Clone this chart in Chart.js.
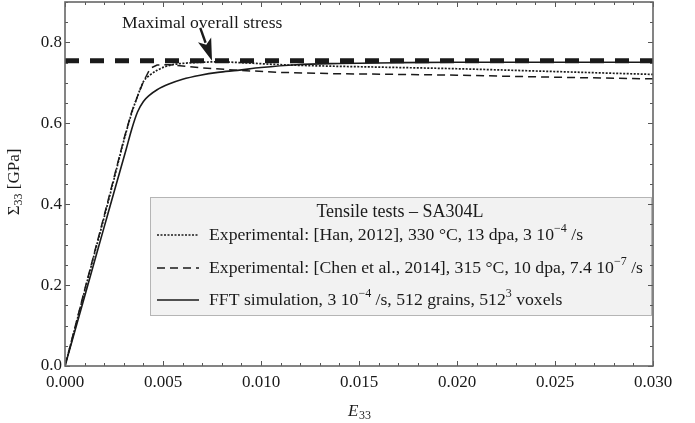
<!DOCTYPE html>
<html><head><meta charset="utf-8">
<script src="https://cdn.jsdelivr.net/npm/chart.js@4.4.1/dist/chart.umd.min.js"></script>
<style>html,body{margin:0;padding:0;background:#fff;}</style>
</head><body>
<canvas id="c" width="695" height="423"></canvas>
<script>
// ---- Data ----
const fftStrain  = [0, 0.001, 0.002, 0.0026, 0.0031, 0.0034, 0.0037, 0.0040, 0.0043, 0.0047, 0.0053, 0.0060, 0.0069, 0.0078, 0.0088, 0.0100, 0.0118, 0.0140, 0.0170, 0.0200, 0.0250, 0.0300];
const fftStress  = [0, 0.172, 0.344, 0.447, 0.532, 0.585, 0.628, 0.654, 0.669, 0.683, 0.697, 0.709, 0.719, 0.726, 0.731, 0.738, 0.745, 0.748, 0.750, 0.751, 0.751, 0.751];
const hanStrain  = [0, 0.0005, 0.001, 0.0015, 0.002, 0.0025, 0.003, 0.0034, 0.0037, 0.0040, 0.0043, 0.0047, 0.0051, 0.0056, 0.0062, 0.0070, 0.0078, 0.0090, 0.0110, 0.0130, 0.0160, 0.0200, 0.0250, 0.0300];
const hanStress  = [0, 0.092, 0.185, 0.277, 0.368, 0.462, 0.557, 0.625, 0.667, 0.703, 0.718, 0.731, 0.740, 0.746, 0.749, 0.751, 0.752, 0.750, 0.745, 0.742, 0.739, 0.735, 0.728, 0.721];
const chenStrain = [0, 0.0005, 0.001, 0.0015, 0.002, 0.0025, 0.003, 0.0034, 0.0037, 0.0040, 0.00435, 0.0047, 0.0053, 0.0060, 0.0070, 0.0089, 0.0110, 0.0135, 0.0170, 0.0200, 0.0250, 0.0300];
const chenStress = [0, 0.094, 0.188, 0.280, 0.372, 0.466, 0.560, 0.628, 0.667, 0.703, 0.736, 0.744, 0.745, 0.742, 0.737, 0.731, 0.726, 0.723, 0.721, 0.719, 0.714, 0.710];
const maxStressStrain = [0, 0.030];
const maxStressValue  = [0.755, 0.755];

const xTicks = [0, 0.005, 0.010, 0.015, 0.020, 0.025, 0.030];
const xTickLabels = ['0.000', '0.005', '0.010', '0.015', '0.020', '0.025', '0.030'];
const yTicks = [0, 0.2, 0.4, 0.6, 0.8];
const yTickLabels = ['0.0', '0.2', '0.4', '0.6', '0.8'];

const annotationText = 'Maximal overall stress';
const annotationAt = [0.0070, 0.847];
const arrowFrom = [0.0069, 0.836];
const arrowTo = [0.0075, 0.755];

const legendTitle = 'Tensile tests \u2013 SA304L';
const legendEntries = [
  [{t: 'Experimental: [Han, 2012], 330 \u00B0C, 13 dpa, 3 10'}, {t: '\u22124', sup: true}, {t: ' /s'}],
  [{t: 'Experimental: [Chen et al., 2014], 315 \u00B0C, 10 dpa, 7.4 10'}, {t: '\u22127', sup: true}, {t: ' /s'}],
  [{t: 'FFT simulation, 3 10'}, {t: '\u22124', sup: true}, {t: ' /s, 512 grains, 512'}, {t: '3', sup: true}, {t: ' voxels'}]
];

// ---- Styling ----
const FAM = "'Liberation Serif', 'Times New Roman', serif";
const INK = '#1a1a1a';
const dotted = [2, 1.5];
const dashed = [8, 5];
Chart.defaults.font.family = FAM;
Chart.defaults.color = INK;

const pts = (xs, ys) => xs.map((x, i) => ({x, y: ys[i]}));

function drawRich(ctx, segs, x, y, size) {
  let cx = x;
  for (const s of segs) {
    if (s.sup) {
      ctx.font = `${Math.round(size * 0.66)}px ${FAM}`;
      ctx.fillText(s.t, cx, y - size * 0.36);
    } else {
      ctx.font = `${size}px ${FAM}`;
      ctx.fillText(s.t, cx, y);
    }
    cx += ctx.measureText(s.t).width;
  }
  return cx;
}

const noPad = s => { s.paddingTop = 0; s.paddingBottom = 0; s.paddingLeft = 0; s.paddingRight = 0; };

const decor = {
  id: 'decor',
  afterDatasetsDraw(chart) {
    const {ctx, chartArea: a, scales: {x, y}} = chart;
    ctx.save();
    // Annotation text & arrow
    ctx.fillStyle = INK;
    ctx.font = `17.6px ${FAM}`;
    ctx.textAlign = 'center';
    ctx.textBaseline = 'middle';
    ctx.fillText(annotationText, x.getPixelForValue(annotationAt[0]), y.getPixelForValue(annotationAt[1]));
    const x0 = x.getPixelForValue(arrowFrom[0]), y0 = y.getPixelForValue(arrowFrom[1]);
    const x1 = x.getPixelForValue(arrowTo[0]), y1 = y.getPixelForValue(arrowTo[1]);
    const ang = Math.atan2(y1 - y0, x1 - x0);
    const hl = 22, hw = 7;
    const bx = x1 - hl * Math.cos(ang), by = y1 - hl * Math.sin(ang);
    ctx.strokeStyle = INK; ctx.lineWidth = 2.4;
    ctx.beginPath(); ctx.moveTo(x0, y0); ctx.lineTo(bx + 3 * Math.cos(ang), by + 3 * Math.sin(ang)); ctx.stroke();
    ctx.beginPath();
    ctx.moveTo(x1, y1);
    ctx.lineTo(bx + hw * Math.sin(ang), by - hw * Math.cos(ang));
    ctx.lineTo(bx + 5 * Math.cos(ang), by + 5 * Math.sin(ang));
    ctx.lineTo(bx - hw * Math.sin(ang), by + hw * Math.cos(ang));
    ctx.closePath(); ctx.fill();

    // Legend box
    const L = 150, T = 197, R = a.right - 1, B = 316;
    ctx.fillStyle = '#f2f2f2';
    ctx.fillRect(L, T, R - L, B - T);
    ctx.strokeStyle = '#b5b5b5'; ctx.lineWidth = 1;
    ctx.strokeRect(L + 0.5, T + 0.5, R - L - 1, B - T - 1);
    ctx.fillStyle = INK;
    ctx.font = `18px ${FAM}`;
    ctx.textAlign = 'center';
    ctx.fillText(legendTitle, 400, 212);
    ctx.textAlign = 'left';
    const rows = [235, 268, 300];
    const dashes = [dotted, dashed, []];
    rows.forEach((ry, i) => {
      ctx.strokeStyle = INK; ctx.lineWidth = 1.6;
      ctx.setLineDash(dashes[i]);
      ctx.beginPath(); ctx.moveTo(157, ry); ctx.lineTo(199, ry); ctx.stroke();
      ctx.setLineDash([]);
      ctx.fillStyle = INK;
      drawRich(ctx, legendEntries[i], 209, ry, 17.7);
    });
    ctx.restore();
  },
  afterDraw(chart) {
    const {ctx, chartArea: a, scales: {x, y}} = chart;
    ctx.save();
    // ticks (inside, mirrored)
    ctx.strokeStyle = '#555'; ctx.lineWidth = 1;
    ctx.beginPath();
    for (let k = 0; k <= 30; k++) {
      const v = k / 1000, px = Math.round(x.getPixelForValue(v)) + 0.5;
      const len = (k % 5 === 0) ? 5 : 3;
      ctx.moveTo(px, a.bottom); ctx.lineTo(px, a.bottom - len);
      ctx.moveTo(px, a.top); ctx.lineTo(px, a.top + len);
    }
    for (let k = 0; k <= 18; k++) {
      const v = k * 0.05, py = Math.round(y.getPixelForValue(v)) + 0.5;
      const len = (k % 4 === 0) ? 5 : 3;
      ctx.moveTo(a.left, py); ctx.lineTo(a.left + len, py);
      ctx.moveTo(a.right, py); ctx.lineTo(a.right - len, py);
    }
    ctx.stroke();
    // frame
    ctx.strokeStyle = '#666'; ctx.lineWidth = 1.6;
    ctx.strokeRect(a.left, a.top, a.right - a.left, a.bottom - a.top);
    // axis titles
    ctx.fillStyle = INK;
    ctx.textBaseline = 'alphabetic';
    ctx.textAlign = 'left';
    ctx.font = `italic 17px ${FAM}`;
    const ex = 348, ey = 416;
    ctx.fillText('E', ex, ey);
    const ew = ctx.measureText('E').width;
    ctx.font = `12px ${FAM}`;
    ctx.fillText('33', ex + ew + 0.5, ey + 3);
    // y title rotated
    ctx.translate(19, 182);
    ctx.rotate(-Math.PI / 2);
    ctx.font = `17px ${FAM}`;
    const s1 = '\u03A3', s3 = ' [GPa]';
    const w1 = ctx.measureText(s1).width, w3 = ctx.measureText(s3).width;
    ctx.font = `12px ${FAM}`;
    const w2 = ctx.measureText('33').width;
    let cx = -(w1 + w2 + w3) / 2;
    ctx.font = `17px ${FAM}`;
    ctx.fillText(s1, cx, 0); cx += w1;
    ctx.font = `12px ${FAM}`;
    ctx.fillText('33', cx, 3); cx += w2;
    ctx.font = `17px ${FAM}`;
    ctx.fillText(s3, cx, 0);
    ctx.restore();
  }
};

new Chart(document.getElementById('c'), {
  type: 'line',
  data: {
    datasets: [
      {label: 'Maximal overall stress', data: pts(maxStressStrain, maxStressValue), borderColor: INK, borderWidth: 5, borderDash: [14, 11], borderCapStyle: 'butt', tension: 0},
      {label: 'Chen', data: pts(chenStrain, chenStress), borderColor: INK, borderWidth: 1.5, borderDash: dashed, tension: 0},
      {label: 'Han', data: pts(hanStrain, hanStress), borderColor: INK, borderWidth: 1.7, borderDash: dotted, cubicInterpolationMode: 'monotone'},
      {label: 'FFT', data: pts(fftStrain, fftStress), borderColor: INK, borderWidth: 1.6, cubicInterpolationMode: 'monotone'}
    ]
  },
  options: {
    responsive: false,
    animation: false,
    layout: {padding: {left: 0, right: 42, top: 2, bottom: 0}},
    elements: {point: {radius: 0}},
    plugins: {legend: {display: false}, tooltip: {enabled: false}},
    scales: {
      x: {
        type: 'linear', min: 0, max: 0.03,
        grid: {display: false, drawTicks: false, tickLength: 0},
        border: {display: false},
        afterBuildTicks: s => { s.ticks = xTicks.map(v => ({value: v})); },
        afterFit: s => { s.height = 57; noPad(s); },
        ticks: {font: {size: 17, family: FAM}, color: INK, padding: 6, maxRotation: 0, autoSkip: false,
          callback: (v, i) => xTickLabels[i]}
      },
      y: {
        type: 'linear', min: 0, max: 0.9,
        grid: {display: false, drawTicks: false, tickLength: 0},
        border: {display: false},
        afterBuildTicks: s => { s.ticks = yTicks.map(v => ({value: v})); },
        afterFit: s => { s.width = 65; noPad(s); },
        ticks: {font: {size: 17, family: FAM}, color: INK, padding: 3, autoSkip: false,
          callback: (v, i) => yTickLabels[i]}
      }
    }
  },
  plugins: [decor]
});
</script>
</body></html>
